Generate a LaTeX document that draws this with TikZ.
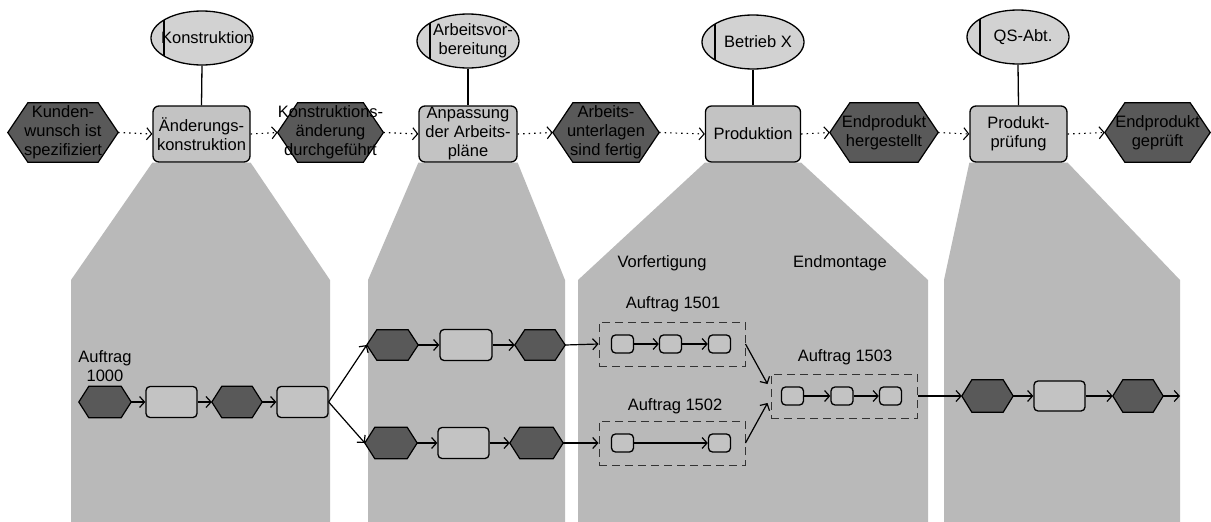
\documentclass[tikz,border=0pt]{standalone}
\usepackage{fontspec}
\setmainfont{Liberation Sans}
\usetikzlibrary{arrows.meta,shapes.geometric,calc}
\pgfdeclarelayer{panel}
\pgfdeclarelayer{shape}
\pgfsetlayers{panel,shape,main}
\definecolor{panelgray}{HTML}{B9B9B9}
\definecolor{boxgray}{HTML}{C3C3C3}
\definecolor{evgray}{HTML}{595959}
\definecolor{orggray}{HTML}{D2D2D2}
\definecolor{dashgray}{HTML}{333333}
\tikzset{
  lbl/.style={font=\fontsize{16.5}{19}\selectfont, align=center, inner sep=0pt},
  fn/.style={lbl, draw, line width=1.3pt, fill=boxgray, rounded corners=6pt,
             minimum width=#1, minimum height=56pt},
  org/.style={ellipse, draw, line width=1.3pt, fill=orggray, inner sep=0pt,
              minimum width=102pt, minimum height=54pt,
              label={[lbl, xshift=5pt]center:#1},
              path picture={\draw[line width=1.3pt]
                ([xshift=13pt]path picture bounding box.north west) --
                ([xshift=13pt]path picture bounding box.south west);}},
  ev/.style 2 args={lbl, minimum width=#1, minimum height=#2},
  sfn/.style 2 args={draw, line width=1.3pt, fill=boxgray, rounded corners=4pt,
             minimum width=#1, minimum height=#2, inner sep=0pt},
  dbox/.style={draw=dashgray, dash pattern=on 8pt off 5pt, line width=1pt,
             minimum width=146pt, minimum height=44pt, inner sep=0pt},
  hexline/.style={draw, line width=1.2pt, fill=evgray},
  dotarr/.style={line width=1.1pt, dash pattern=on 1.5pt off 4pt,
             -{Straight Barb[length=5pt,width=12pt]}},
  arr/.style={line width=1.2pt, -{Straight Barb[length=5pt,width=11pt]}},
  orgline/.style={line width=1.3pt}
}
\newcommand\hexdraw[2]{%
  \draw[hexline] (#1.west) -- ([xshift=#2]#1.north west) -- ([xshift=-#2]#1.north east)
   -- (#1.east) -- ([xshift=-#2]#1.south east) -- ([xshift=#2]#1.south west) -- cycle;}
\begin{document}
\begin{tikzpicture}[x=1pt,y=-1pt]
\useasboundingbox (0,0) rectangle (1211,522);

% ---------- top row ----------
\node[org={Konstruktion}] (o1) at (202,38) {};
\node[org={Arbeitsvor-\\bereitung}] (o2) at (468,41) {};
\node[org={Betrieb X}] (o3) at (753,42) {};
\node[org={QS-Abt.}] (o4) at (1018,37) {};

\node[fn=97pt] (f1) at (201.5,134) {Änderungs-\\konstruktion};
\node[fn=98pt] (f2) at (468,134) {Anpassung\\der Arbeits-\\pläne};
\node[fn=95pt] (f3) at (753,134) {Produktion};
\node[fn=97pt] (f4) at (1018.5,134) {Produkt-\\prüfung};

\node[ev={110pt}{59pt}] (e1) at (63,132.5) {Kunden-\\wunsch ist\\spezifiziert};
\node[ev={105pt}{59pt}] (e2) at (330.5,132.5) {Konstruktions-\\änderung\\durchgeführt};
\node[ev={106pt}{59pt}] (e3) at (606,132.5) {Arbeits-\\unterlagen\\sind fertig};
\node[ev={108pt}{59pt}] (e4) at (884,132.5) {Endprodukt\\hergestellt};
\node[ev={105pt}{59pt}] (e5) at (1157.5,132.5) {Endprodukt\\geprüft};

\foreach \o/\f in {o1/f1,o2/f2,o3/f3,o4/f4}
  \draw[orgline] (\o.south) -- (\f.north);

\foreach \a/\b in {e1/f1,f1/e2,e2/f2,f2/e3,e3/f3,f3/e4,e4/f4,f4/e5}
  \draw[dotarr] (\a.east) -- (\b.west);

% ---------- panels ----------
\begin{pgfonlayer}{panel}
\fill[panelgray] (f1.south west) -- (f1.south east) -- (330,280) -- (330,522) -- (71,522) -- (71,280) -- cycle;
\fill[panelgray] (f2.south west) -- (f2.south east) -- (565,280) -- (565,522) -- (368,522) -- (368,280) -- cycle;
\fill[panelgray] (f3.south west) -- (f3.south east) -- (928,280) -- (928,522) -- (578,522) -- (578,280) -- cycle;
\fill[panelgray] (f4.south west) -- (f4.south east) -- (1180,280) -- (1180,522) -- (944,522) -- (944,280) -- cycle;
\end{pgfonlayer}

% ---------- panel 1 ----------
\node[lbl] (l1000) at (105,366) {Auftrag\\1000};
\node[ev={52pt}{31pt}] (h1) at (105,402) {};
\node[sfn={51pt}{31pt}] (b1) at (171.5,402) {};
\node[ev={50pt}{31pt}] (h2) at (237,402) {};
\node[sfn={51pt}{31pt}] (b2) at (302.5,402) {};

% ---------- panel 2 ----------
\node[ev={51pt}{30pt}] (hA1) at (392.5,345) {};
\node[sfn={52pt}{31pt}] (bA) at (466,345) {};
\node[ev={50pt}{30pt}] (hA2) at (540,345) {};
\node[ev={52pt}{31pt}] (hB1) at (391,443) {};
\node[sfn={51pt}{31pt}] (bB) at (463.5,443) {};
\node[ev={53pt}{31pt}] (hB2) at (536.5,443) {};

% ---------- panel 3 ----------
\node[lbl] (lvor) at (662,263) {Vorfertigung};
\node[lbl] (lend) at (840,263) {Endmontage};
\node[lbl] (l1501) at (673,304) {Auftrag 1501};
\node[lbl] (l1502) at (675,406) {Auftrag 1502};
\node[lbl] (l1503) at (845,357) {Auftrag 1503};
\node[dbox] (d1501) at (672,344) {};
\node[dbox] (d1502) at (672,443) {};
\node[dbox] (d1503) at (844,396) {};
\node[sfn={22pt}{18pt}] (sa1) at (622.5,344) {};
\node[sfn={22pt}{18pt}] (sa2) at (670.5,344) {};
\node[sfn={22pt}{18pt}] (sa3) at (719.5,344) {};
\node[sfn={22pt}{18pt}] (sb1) at (622.5,443) {};
\node[sfn={22pt}{18pt}] (sb3) at (719.5,443) {};
\node[sfn={22pt}{18pt}] (sc1) at (792.5,396) {};
\node[sfn={22pt}{18pt}] (sc2) at (842,396) {};
\node[sfn={22pt}{18pt}] (sc3) at (890.5,396) {};

% ---------- panel 4 ----------
\node[ev={51pt}{32pt}] (hC1) at (987.5,396) {};
\node[sfn={51pt}{30pt}] (bC) at (1059.5,396) {};
\node[ev={50pt}{32pt}] (hC2) at (1138,396) {};
\coordinate (cend) at (1180,396);

% ---------- hexagon outlines ----------
\begin{pgfonlayer}{shape}
\hexdraw{e1}{20pt}\hexdraw{e2}{20pt}\hexdraw{e3}{20pt}\hexdraw{e4}{20pt}\hexdraw{e5}{20pt}
\foreach \h in {h1,h2,hA1,hA2,hB1,hB2,hC1,hC2} {\hexdraw{\h}{10pt}}
\end{pgfonlayer}

% ---------- connectors ----------
\foreach \a/\b in {h1/b1,b1/h2,h2/b2,hA1/bA,bA/hA2,hA2/d1501,hB1/bB,bB/hB2,hB2/d1502,
                   sa1/sa2,sa2/sa3,sb1/sb3,sc1/sc2,sc2/sc3,d1503/hC1,hC1/bC,bC/hC2}
  \draw[arr] (\a.east) -- (\b.west);
\draw[arr] (b2.east) -- (hA1.west);
\draw[arr] (b2.east) -- (hB1.west);
\draw[arr] (d1501.east) -- ([xshift=-3pt,yshift=12pt]d1503.west);
\draw[arr] (d1502.east) -- ([xshift=-3pt,yshift=-7pt]d1503.west);
\draw[arr] (hC2.east) -- (cend);
\end{tikzpicture}
\end{document}
